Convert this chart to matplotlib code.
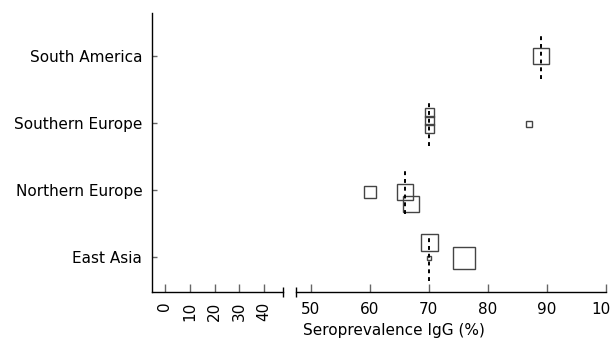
import numpy as np
import matplotlib
matplotlib.use('Agg')
import matplotlib.pyplot as plt

# groups from bottom to top
groups = ['East Asia', 'Northern Europe', 'Southern Europe', 'South America']
pooled = [70, 66, 70, 89]

# individual studies
study_group = [0, 0, 0, 1, 1, 1, 2, 2, 2, 2, 3]
study_value = [70, 70, 76, 60, 66, 67, 70, 70, 70, 87, 89]
study_weight = [17, 4.5, 22, 12, 16, 16.5, 9, 9, 9, 6, 16]
study_row = [0.23, -0.015, -0.015, -0.03, -0.03, -0.21, 0.17, 0.045, -0.075, -0.015, 0.0]

left_ticks = [0, 10, 20, 30, 40]
right_ticks = [50, 60, 70, 80, 90, 100]

plt.rcParams['font.family'] = 'DejaVu Sans'
plt.rcParams['font.size'] = 11

fig = plt.figure(figsize=(6.11, 3.43), dpi=100)
W, H = 611, 343
bot = (H - 292) / H
top = (H - 13) / H
ax_l = fig.add_axes([152 / W, bot, 131 / W, top - bot])
ax_r = fig.add_axes([296 / W, bot, 309.7 / W, top - bot])

ylim = (-0.52, 3.64)
for ax in (ax_l, ax_r):
    ax.set_ylim(*ylim)
    ax.spines['top'].set_visible(False)
    ax.spines['right'].set_visible(False)
    ax.spines['bottom'].set_linewidth(1)
    ax.spines['left'].set_linewidth(1)
    ax.set_facecolor('none')

ax_l.set_xlim(-5.2, 47.6)
ax_l.set_xticks(left_ticks)
ax_l.set_xticklabels([str(t) for t in left_ticks], rotation=90, va='top')
ax_l.set_yticks(range(len(groups)))
ax_l.set_yticklabels(groups)
ax_l.tick_params(axis='x', direction='in', length=5.8, width=1, color='#666666', pad=7)
ax_l.tick_params(axis='y', direction='in', length=3.6, width=1, color='#666666', pad=7)

ax_r.set_xlim(47.5, 100)
ax_r.set_xticks(right_ticks)
ax_r.spines['left'].set_visible(False)
ax_r.set_yticks([])
ax_r.tick_params(axis='x', direction='in', length=5.8, width=1, color='#666666', pad=7)
ax_r.set_xlabel('Seroprevalence IgG (%)', loc='left')
ax_r.xaxis.set_label_coords(0.023, -0.112)

# break marks
ax_l.plot([1], [0], marker='|', markersize=6.8, markeredgewidth=1, color='k',
          transform=ax_l.transAxes, clip_on=False)
ax_r.plot([0], [0], marker='|', markersize=6.8, markeredgewidth=1, color='k',
          transform=ax_r.transAxes, clip_on=False)

# studies
for g, v, w, r in zip(study_group, study_value, study_weight, study_row):
    ax_r.plot(v, g + r, marker='s', markersize=w * 0.72, markerfacecolor='none',
              markeredgecolor='#444444', markeredgewidth=1.0, linestyle='none')

# pooled estimates
for i, p in enumerate(pooled):
    ax_r.plot([p, p], [i - 0.35, i + 0.32], color='k', lw=1.4,
              linestyle=(0, (2.0, 2.0)))

fig.savefig('out.png', dpi=100)
